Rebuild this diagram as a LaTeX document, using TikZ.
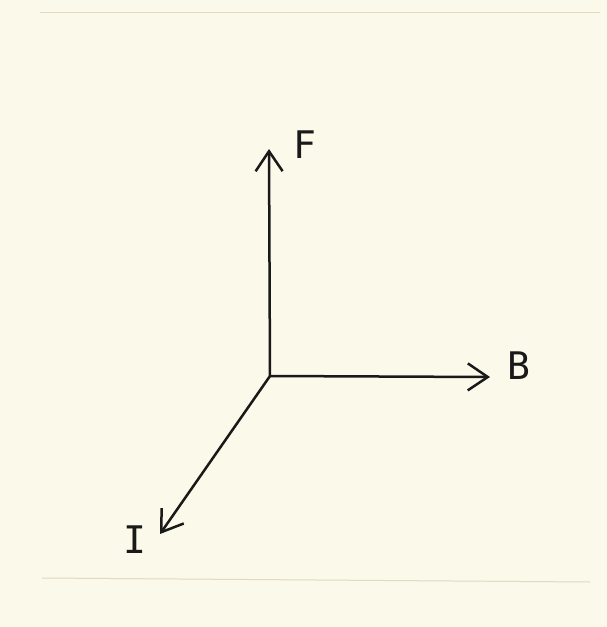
\documentclass[tikz,border=0pt]{standalone}
\usepackage{fontspec}
\setmonofont{DejaVu Sans Mono}
\usetikzlibrary{arrows.meta,positioning}
\definecolor{paper}{HTML}{FBF9EA}
\definecolor{paperedge}{HTML}{E3D9BE}

\begin{document}
\begin{tikzpicture}[x=1pt,y=-1pt,
    axis/.style={-{Straight Barb[length=20pt,width=27pt,line width=2.5pt]},line width=2.5pt,black!90},
    letter/.style={font=\ttfamily\fontsize{38}{38}\selectfont,inner sep=0pt,black!90}]
    \useasboundingbox (0,0) rectangle (607,627);
    \fill[paper] (0,0) rectangle (607,627);
    \draw[paperedge,line width=1pt] (40,12) -- (600,12);
    \draw[paperedge,line width=1pt] (42,578) -- (590,582);
    % axes
    \coordinate (o) at (270,376);
    \coordinate (f) at (269,149);
    \coordinate (b) at (490,377);
    \coordinate (i) at (160,534);
    \draw[axis] (o) -- (f);
    \draw[axis] (o) -- (b);
    \draw[axis] (o) -- (i);
    % labels
    \node[letter] (lf) at (305,145) {F};
    \node[letter] (lb) at (519,366) {B};
    \node[letter] (li) at (135,540) {I};
\end{tikzpicture}
\end{document}
